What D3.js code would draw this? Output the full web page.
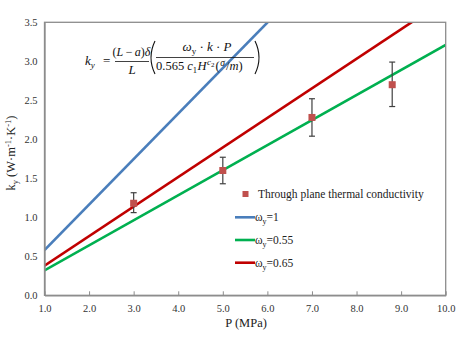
<!DOCTYPE html>
<html><head><meta charset="utf-8">
<script src="https://cdn.jsdelivr.net/npm/d3@7"></script>
<style>
html,body{margin:0;padding:0;background:#fff;}
svg text{font-family:"Liberation Serif","Times New Roman",serif !important;}
</style></head>
<body><svg id="c" width="474" height="337"></svg>
<script>
// ---- data ----
const xTicks = [1,2,3,4,5,6,7,8,9,10];
const yTicks = [0,0.5,1,1.5,2,2.5,3,3.5];
const pointP = [3, 5, 7, 8.8];
const pointK = [1.18, 1.60, 2.28, 2.70];
const errLow = [1.06, 1.43, 2.04, 2.42];
const errHigh = [1.315, 1.77, 2.52, 2.99];
const lineP = [1, 10];
const blueK = [0.58, 5.83];
const greenK = [0.32, 3.21];
const redK = [0.38, 3.79];
const seriesNames = ["ω", "ω", "ω"];
const seriesLabels = ["=1", "=0.55", "=0.65"];
const seriesColors = ["#4a7ebb", "#00b050", "#c00000"];

const svg = d3.select("#c");
const L = 44.5, R = 445.7, T = 22.3, B = 295.3;
const x = d3.scaleLinear().domain([1,10]).range([L,R]);
const y = d3.scaleLinear().domain([0,3.5]).range([B,T]);

svg.append("defs").append("clipPath").attr("id","clip")
  .append("rect").attr("x",L).attr("y",T).attr("width",R-L).attr("height",B-T);

const lines = [blueK, greenK, redK];
const lineGen = d3.line().x((d,i)=>x(lineP[i])).y(d=>y(d));
lines.forEach((ks,i)=>{
  svg.append("path").attr("clip-path","url(#clip)")
    .attr("d", lineGen(ks)).attr("fill","none")
    .attr("stroke", seriesColors[i]).attr("stroke-width",2.6);
});

svg.append("rect").attr("x",L).attr("y",T).attr("width",R-L).attr("height",B-T)
  .attr("fill","none").attr("stroke","#8c8c8c").attr("stroke-width",1.3);

const xa = svg.append("g").attr("transform",`translate(0,${B})`)
  .call(d3.axisBottom(x).tickValues(xTicks).tickSizeInner(-4).tickSizeOuter(0).tickPadding(9).tickFormat(d3.format(".1f")));
xa.select(".domain").attr("stroke","#8c8c8c").attr("stroke-width",1.3);
xa.selectAll(".tick line").attr("stroke","#8c8c8c");
xa.selectAll("text").attr("font-size",10.5).attr("fill","#333");

const ya = svg.append("g").attr("transform",`translate(${L},0)`)
  .call(d3.axisLeft(y).tickValues(yTicks).tickSize(0).tickPadding(7).tickFormat(d3.format(".1f")));
ya.select(".domain").attr("stroke","#8c8c8c").attr("stroke-width",1.3);
ya.selectAll("text").attr("font-size",10.5).attr("fill","#333");

svg.append("text").attr("x",(L+R)/2+1).attr("y",327).attr("text-anchor","middle")
  .attr("font-size",12.5).attr("fill","#222").text("P (MPa)");
const yt = svg.append("text").attr("transform","translate(15,153) rotate(-90)")
  .attr("text-anchor","middle").attr("font-size",12.5).attr("fill","#222");
yt.append("tspan").text("k");
yt.append("tspan").attr("font-size",8.5).attr("dy",3).text("y");
yt.append("tspan").attr("dy",-3).text(" (W·m");
yt.append("tspan").attr("font-size",8.5).attr("dy",-4).text("-1");
yt.append("tspan").attr("dy",4).text("·K");
yt.append("tspan").attr("font-size",8.5).attr("dy",-4).text("-1");
yt.append("tspan").attr("dy",4).text(")");

pointP.forEach((p,i)=>{
  const g = svg.append("g").attr("stroke","#404040").attr("stroke-width",1.2);
  g.append("line").attr("x1",x(p)).attr("x2",x(p)).attr("y1",y(errLow[i])).attr("y2",y(errHigh[i]));
  g.append("line").attr("x1",x(p)-3).attr("x2",x(p)+3).attr("y1",y(errLow[i])).attr("y2",y(errLow[i]));
  g.append("line").attr("x1",x(p)-3).attr("x2",x(p)+3).attr("y1",y(errHigh[i])).attr("y2",y(errHigh[i]));
  svg.append("rect").attr("x",x(p)-3.5).attr("y",y(pointK[i])-3.5).attr("width",7).attr("height",7)
    .attr("fill","#c0504d");
});

svg.append("rect").attr("x",242.5).attr("y",191).attr("width",6).attr("height",6).attr("fill","#c0504d");
svg.append("text").attr("x",258).attr("y",198).attr("font-size",11.5).attr("fill","#222")
  .text("Through plane thermal conductivity");
const legY = [217.3, 240, 262.7];
seriesLabels.forEach((lab,i)=>{
  svg.append("line").attr("x1",235).attr("x2",255).attr("y1",legY[i]).attr("y2",legY[i])
    .attr("stroke",seriesColors[i]).attr("stroke-width",2.6);
  const t = svg.append("text").attr("x",255).attr("y",legY[i]+4).attr("font-size",11.5).attr("fill","#222");
  t.append("tspan").text(seriesNames[i]);
  t.append("tspan").attr("font-size",8).attr("dy",3).text("y");
  t.append("tspan").attr("dy",-3).text(lab);
});

// equation
const eq = svg.append("g").attr("fill","#111").attr("font-size",13);
const ky = eq.append("text").attr("x",85).attr("y",65).attr("font-style","italic");
ky.append("tspan").text("k");
ky.append("tspan").attr("font-size",9).attr("dy",3).text("y");
eq.append("text").attr("x",103).attr("y",65).text("=");
const n1 = eq.append("text").attr("x",131.5).attr("y",56).attr("text-anchor","middle").attr("font-size",12);
n1.append("tspan").text("(");
n1.append("tspan").attr("font-style","italic").text("L");
n1.append("tspan").text("\u2009−\u2009");
n1.append("tspan").attr("font-style","italic").text("a");
n1.append("tspan").text(")");
n1.append("tspan").attr("font-style","italic").text("δ");
eq.append("line").attr("x1",115).attr("x2",149).attr("y1",61.5).attr("y2",61.5).attr("stroke","#111").attr("stroke-width",0.8);
eq.append("text").attr("x",132).attr("y",73.5).attr("text-anchor","middle").attr("font-style","italic").text("L");
eq.append("path").attr("d","M155,41 Q147,57.5 155,74").attr("fill","none").attr("stroke","#111").attr("stroke-width",1.1);
eq.append("path").attr("d","M255,41 Q263,57.5 255,74").attr("fill","none").attr("stroke","#111").attr("stroke-width",1.1);
const n2 = eq.append("text").attr("x",207).attr("y",51).attr("text-anchor","middle");
n2.append("tspan").attr("font-style","italic").text("ω");
n2.append("tspan").attr("font-size",9).attr("dy",3).text("y");
n2.append("tspan").attr("dy",-3).text(" · ");
n2.append("tspan").attr("font-style","italic").text("k");
n2.append("tspan").text(" · ");
n2.append("tspan").attr("font-style","italic").text("P");
eq.append("line").attr("x1",156).attr("x2",254).attr("y1",57.5).attr("y2",57.5).attr("stroke","#111").attr("stroke-width",0.8);
const d2 = eq.append("text").attr("x",156).attr("y",70).attr("font-size",12.5);
d2.append("tspan").text("0.565 ");
d2.append("tspan").attr("font-style","italic").text("c");
d2.append("tspan").attr("font-size",8.5).attr("dy",3).text("1");
d2.append("tspan").attr("dy",-3).attr("dx",0.5).attr("font-style","italic").text("H");
d2.append("tspan").attr("font-size",9).attr("dy",-5).attr("dx",0.5).attr("font-style","italic").text("c");
d2.append("tspan").attr("font-size",7).attr("dy",2).text("2");
d2.append("tspan").attr("dy",3).attr("dx",1).text("(");
d2.append("tspan").attr("font-size",9.5).attr("dy",-4).attr("dx",0.5).attr("font-style","italic").text("σ");
d2.append("tspan").attr("dy",4).attr("dx",1).text("/");
d2.append("tspan").attr("font-style","italic").text("m");
d2.append("tspan").text(")");
</script></body></html>
